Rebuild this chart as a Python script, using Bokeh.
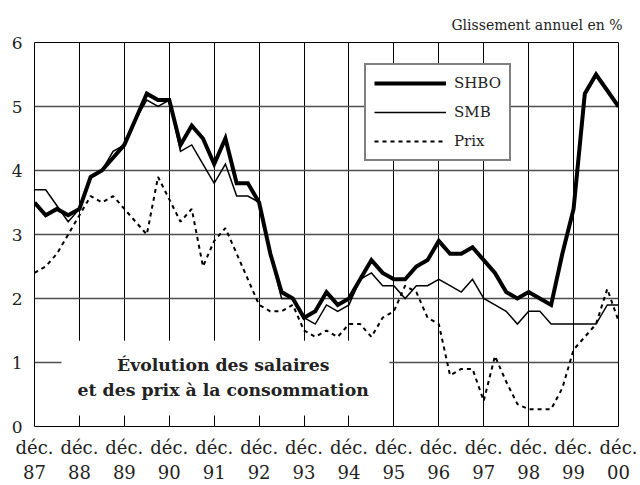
from bokeh.plotting import figure
from bokeh.models import FixedTicker, BoxAnnotation, Label, Legend, LegendItem, Range1d
from bokeh.embed import file_html
from bokeh.resources import INLINE

# ---- data (quarterly, déc. 1987 -> déc. 2000), annual growth in % ----
years = ["87", "88", "89", "90", "91", "92", "93", "94", "95", "96", "97", "98", "99", "00"]
shbo = [3.5, 3.3, 3.4, 3.3, 3.4, 3.9, 4.0, 4.2, 4.4, 4.8, 5.2, 5.1, 5.1,
        4.4, 4.7, 4.5, 4.1, 4.5, 3.8, 3.8, 3.5, 2.7, 2.1, 2.0, 1.7,
        1.8, 2.1, 1.9, 2.0, 2.3, 2.6, 2.4, 2.3, 2.3, 2.5, 2.6, 2.9,
        2.7, 2.7, 2.8, 2.6, 2.4, 2.1, 2.0, 2.1, 2.0, 1.9, 2.7, 3.4,
        5.2, 5.5, 5.25, 5.0]
smb = [3.7, 3.7, 3.45, 3.2, 3.4, 3.9, 4.0, 4.3, 4.4, 4.8, 5.1, 5.0, 5.1,
       4.3, 4.4, 4.1, 3.8, 4.1, 3.6, 3.6, 3.5, 2.7, 2.0, 2.0, 1.7,
       1.6, 1.9, 1.8, 1.9, 2.3, 2.4, 2.2, 2.2, 2.0, 2.2, 2.2, 2.3,
       2.2, 2.1, 2.3, 2.0, 1.9, 1.8, 1.6, 1.8, 1.8, 1.6, 1.6, 1.6,
       1.6, 1.6, 1.9, 1.9]
prix = [2.4, 2.5, 2.7, 3.0, 3.3, 3.6, 3.5, 3.6, 3.4, 3.2, 3.0, 3.9, 3.55,
        3.2, 3.4, 2.5, 2.9, 3.1, 2.7, 2.3, 1.9, 1.8, 1.8, 1.9, 1.5,
        1.4, 1.5, 1.4, 1.6, 1.6, 1.4, 1.7, 1.8, 2.2, 2.1, 1.7, 1.6,
        0.8, 0.9, 0.9, 0.4, 1.1, 0.7, 0.35, 0.27, 0.27, 0.27, 0.6, 1.2,
        1.4, 1.6, 2.15, 1.65]
quarters = list(range(len(shbo)))

FONT = "DejaVu Serif"
TXT = "#222222"

p = figure(width=640, height=485, output_backend="svg", toolbar_location=None,
           x_range=Range1d(0, len(shbo) - 1), y_range=Range1d(0, 6),
           min_border_left=34, min_border_right=22, min_border_top=42,
           min_border_bottom=59)

p.background_fill_color = "white"
p.border_fill_color = "white"
p.outline_line_color = "black"
p.outline_line_width = 1

# title (top right)
p.title.text = "Glissement annuel en %"
p.title.align = "right"
p.title.offset = -4
p.title.text_font = FONT
p.title.text_font_size = "14px"
p.title.text_font_style = "normal"
p.title.text_color = TXT
p.title.standoff = 19

# axes
year_ticks = [4 * i for i in range(len(years))]
p.xaxis.ticker = FixedTicker(ticks=year_ticks)
p.xaxis.major_label_overrides = {t: "déc.\n" + y for t, y in zip(year_ticks, years)}
p.yaxis.ticker = FixedTicker(ticks=[0, 1, 2, 3, 4, 5, 6])
for ax in (p.xaxis, p.yaxis):
    ax.axis_line_color = None
    ax.major_tick_line_color = None
    ax.minor_tick_line_color = None
    ax.major_tick_out = 0
    ax.major_tick_in = 0
    ax.minor_tick_out = 0
    ax.minor_tick_in = 0
    ax.axis_label_standoff = 0
    ax.major_label_text_font = FONT
    ax.major_label_text_color = TXT
p.xaxis.major_label_text_font_size = "18px"
p.xaxis.major_label_text_line_height = 1.2
p.xaxis.major_label_standoff = 10
p.yaxis.major_label_text_font_size = "17px"
p.yaxis.major_label_standoff = 12

# grids
p.xgrid.grid_line_color = "black"
p.xgrid.grid_line_width = 1
p.ygrid.grid_line_color = "#4d4d4d"
p.ygrid.grid_line_width = 1.4

# series
r_shbo = p.line(quarters, shbo, line_color="black", line_width=4, line_join="miter")
r_smb = p.line(quarters, smb, line_color="black", line_width=1.5, line_join="miter")
r_prix = p.line(quarters, prix, line_color="black", line_width=2, line_dash="4 4")

# white caption box
p.add_layout(BoxAnnotation(left=2.4, right=31.6, bottom=0.17, top=1.34,
                           fill_color="white", fill_alpha=1, line_alpha=0))
p.add_layout(Label(x=16.8, y=0.96, text="Évolution des salaires", text_align="center",
                   text_baseline="alphabetic", text_font=FONT, text_font_size="17.3px",
                   text_font_style="bold", text_color=TXT))
p.add_layout(Label(x=16.8, y=0.57, text="et des prix à la consommation", text_align="center",
                   text_baseline="alphabetic", text_font=FONT, text_font_size="17.3px",
                   text_font_style="bold", text_color=TXT))

legend = Legend(items=[LegendItem(label="SHBO", renderers=[r_shbo]),
                       LegendItem(label="SMB", renderers=[r_smb]),
                       LegendItem(label="Prix", renderers=[r_prix])],
                location=(330, 265), margin=0, padding=8, spacing=9,
                glyph_width=72, glyph_height=20, label_height=20, label_standoff=8,
                label_text_font=FONT, label_text_font_size="15px", label_text_color=TXT,
                border_line_color="black", border_line_width=2,
                background_fill_color="white", background_fill_alpha=1)
p.add_layout(legend)

open("out.html", "w").write(file_html(p, INLINE))
